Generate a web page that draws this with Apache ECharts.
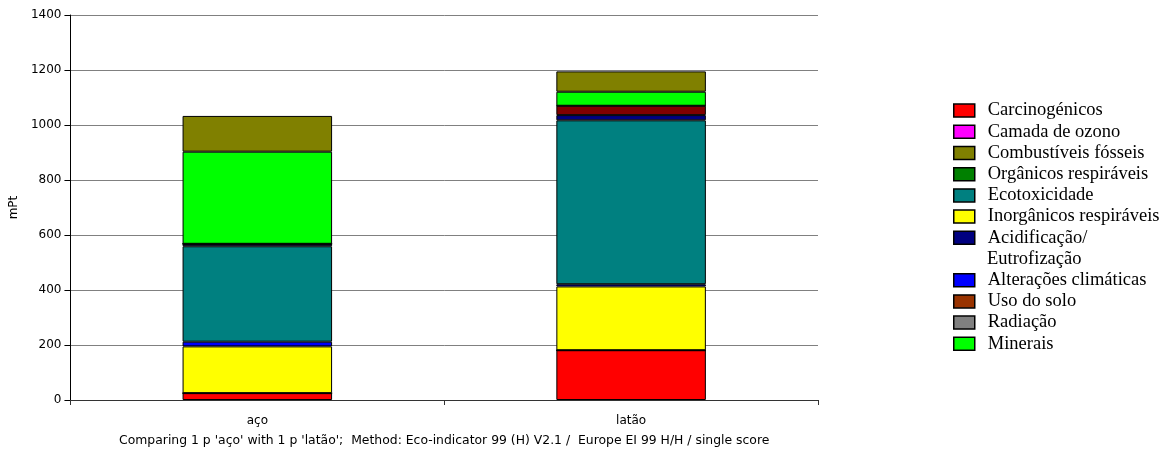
<!DOCTYPE html>
<html>
<head>
<meta charset="utf-8">
<script src="https://cdn.jsdelivr.net/npm/echarts@6/dist/echarts.min.js"></script>
<style>
  html, body { margin: 0; padding: 0; background: #ffffff; }
  #chart { width: 1166px; height: 456px; }
</style>
</head>
<body>
<div id="chart"></div>
<script>
// Products compared (x categories)
const products = ['aço', 'latão'];

// Single-score contributions per impact category, mPt (aço, latão)
const carcinogenicos         = [25, 181];
const camadaOzono            = [0, 0];
const organicosRespiraveis   = [0, 0];
const inorganicosRespiraveis = [170, 232];
const alteracoesClimaticas   = [17, 8];
const ecotoxicidade          = [347, 596];
const acidificacao           = [9, 19];
const usoSolo                = [0, 34];
const radiacao               = [0, 0];
const minerais               = [335, 51];
const combustiveisFosseis    = [130, 74];

// Value axis range
const yMin = 0;
const yMax = 1400;
const yStep = 200;

const ACID = 'Acidificação/Eutrofização';

// Stacking order, bottom to top
const stackOrder = [
  { name: 'Carcinogénicos',          data: carcinogenicos,         color: '#ff0000' },
  { name: 'Camada de ozono',         data: camadaOzono,            color: '#ff00ff' },
  { name: 'Orgânicos respiráveis',   data: organicosRespiraveis,   color: '#008000' },
  { name: 'Inorgânicos respiráveis', data: inorganicosRespiraveis, color: '#ffff00' },
  { name: 'Alterações climáticas',   data: alteracoesClimaticas,   color: '#0000ff' },
  { name: 'Ecotoxicidade',           data: ecotoxicidade,          color: '#008080' },
  { name: ACID,                      data: acidificacao,           color: '#000080' },
  { name: 'Uso do solo',             data: usoSolo,                color: '#800000', legendColor: '#993300' },
  { name: 'Radiação',                data: radiacao,               color: '#808080' },
  { name: 'Minerais',                data: minerais,               color: '#00ff00' },
  { name: 'Combustíveis fósseis',    data: combustiveisFosseis,    color: '#808000' }
];

// Legend listing order (split around the two-line entry)
const legendTop = ['Carcinogénicos', 'Camada de ozono', 'Combustíveis fósseis',
  'Orgânicos respiráveis', 'Ecotoxicidade', 'Inorgânicos respiráveis', ACID];
const legendBottom = ['Alterações climáticas', 'Uso do solo', 'Radiação', 'Minerais'];

const byName = {};
stackOrder.forEach(s => { byName[s.name] = s; });

function legendItems(names) {
  return names.map(n => {
    const s = byName[n];
    return { name: n, itemStyle: { color: s.legendColor || s.color } };
  });
}

const ROW = 21.2;
const LEGEND_X = 953;
const LEGEND_Y0 = 100;
const SERIF = '"Liberation Serif", "Times New Roman", serif';
const SANS = '"DejaVu Sans", Arial, sans-serif';

const legendCommon = {
  orient: 'vertical',
  left: LEGEND_X,
  padding: 0,
  itemGap: 0,
  itemWidth: 21,
  itemHeight: 13,
  icon: 'rect',
  selectedMode: false,
  itemStyle: { borderColor: '#000', borderWidth: 1.5 },
  textStyle: {
    fontFamily: SERIF,
    fontSize: 18.5,
    color: '#000',
    lineHeight: ROW,
    padding: [0, 0, 0, 8]
  },
  formatter: n => (n === ACID ? 'Acidificação/' : n)
};

const chart = echarts.init(document.getElementById('chart'), null, { renderer: 'canvas' });

chart.setOption({
  animation: false,
  backgroundColor: '#ffffff',
  grid: { left: 70, right: 348, top: 15, bottom: 56, containLabel: false },
  legend: [
    Object.assign({}, legendCommon, { top: LEGEND_Y0, data: legendItems(legendTop) }),
    Object.assign({}, legendCommon, { top: LEGEND_Y0 + ROW * 8, data: legendItems(legendBottom) })
  ],
  graphic: [{
    type: 'text',
    left: LEGEND_X + 21 + 5 + 8,
    top: LEGEND_Y0 + ROW * 7,
    style: {
      text: 'Eutrofização',
      font: '18.5px ' + SERIF,
      fill: '#000',
      lineHeight: ROW
    }
  }],
  xAxis: {
    type: 'category',
    data: products,
    name: "Comparing 1 p 'aço' with 1 p 'latão';  Method: Eco-indicator 99 (H) V2.1 /  Europe EI 99 H/H / single score",
    nameLocation: 'middle',
    nameGap: 35,
    nameTextStyle: { fontFamily: SANS, fontSize: 12.4, color: '#000' },
    axisLine: { lineStyle: { color: '#333', width: 1 } },
    axisTick: { show: true, length: 5, lineStyle: { color: '#333' } },
    axisLabel: { margin: 15, fontFamily: SANS, fontSize: 12, color: '#000' },
    splitLine: { show: false }
  },
  yAxis: {
    type: 'value',
    min: yMin,
    max: yMax,
    interval: yStep,
    name: 'mPt',
    nameLocation: 'middle',
    nameGap: 48,
    nameRotate: 90,
    nameTextStyle: { fontFamily: SANS, fontSize: 12, color: '#000' },
    axisLine: { show: true, lineStyle: { color: '#000', width: 1 } },
    axisTick: { show: true, length: 6, lineStyle: { color: '#000' } },
    axisLabel: {
      margin: 9,
      fontFamily: SANS,
      fontSize: 12,
      color: '#000',
      formatter: v => String(v)
    },
    splitLine: { show: true, lineStyle: { color: '#808080', width: 1 } }
  },
  series: stackOrder.map(s => ({
    name: s.name,
    type: 'bar',
    stack: 'total',
    data: s.data,
    barCategoryGap: '60%',
    itemStyle: { color: s.color, borderColor: '#000', borderWidth: 1 },
    emphasis: { disabled: true }
  }))
});
</script>
</body>
</html>
